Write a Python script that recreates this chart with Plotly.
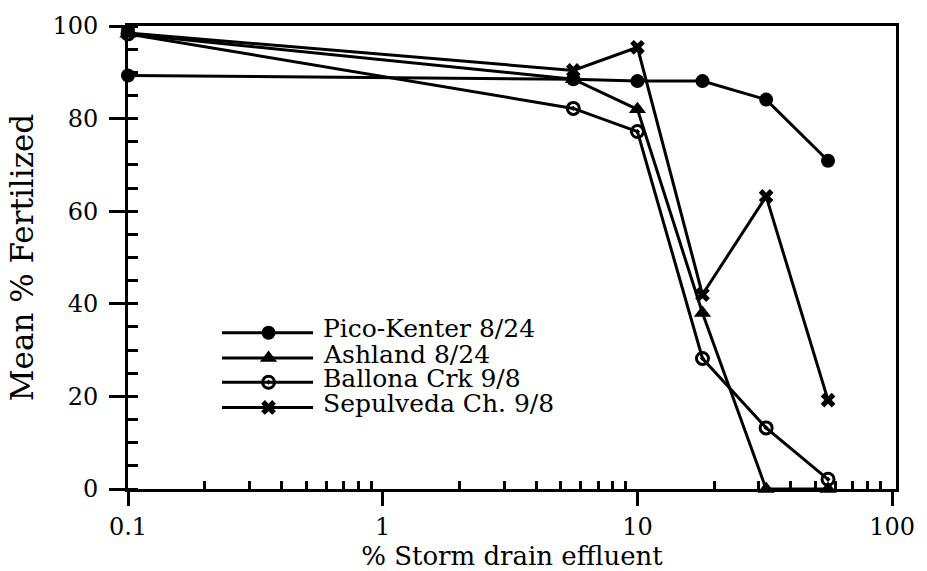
import plotly.graph_objects as go

# ---- data ----
conc = [0.1, 5.6, 10, 18, 32, 56]
pico_kenter = [89.3, 88.5, 88.1, 88.1, 84.1, 70.9]
ashland = [98.3, 88.5, 82.0, 38.0, 0.0, 0.0]
ballona = [98.3, 82.2, 77.2, 28.2, 13.2, 2.1]
sepulveda = [98.5, 90.4, 95.4, 42.0, 63.2, 19.2]
series_names = ["Pico-Kenter 8/24", "Ashland 8/24", "Ballona Crk 9/8", "Sepulveda Ch. 9/8"]
x_tick_vals = [0.1, 1, 10, 100]
x_tick_text = ["0.1", "1", "10", "100"]

# ---- styles ----
FONT = "DejaVu Serif"
W, H = 927, 571
ML, MR, MT, MB = 128, 23, 22, 72
styles = [
    dict(symbol="circle", size=14, color="black", line=dict(width=0)),
    dict(symbol="triangle-up", size=15, color="black", line=dict(width=0)),
    dict(symbol="circle-open-dot", size=12, color="black", line=dict(width=3)),
    dict(symbol="x", size=13, color="black", line=dict(width=0)),
]
values = [pico_kenter, ashland, ballona, sepulveda]

fig = go.Figure()
for name, vals, st in zip(series_names, values, styles):
    fig.add_trace(go.Scatter(
        x=conc, y=vals, name=name, mode="lines+markers",
        line=dict(color="black", width=3), marker=st,
        cliponaxis=False, showlegend=False,
    ))

# ---- manual legend (pixel space overlay axes) ----
leg_line_x0, leg_line_x1, leg_mark_x, leg_text_x = 223, 315, 270, 324
leg_rows = [338, 364, 389, 415]
for name, st, yy in zip(series_names, styles, leg_rows):
    fig.add_shape(type="line", xref="x2", yref="y2", x0=leg_line_x0, x1=leg_line_x1,
                  y0=yy, y1=yy, line=dict(color="black", width=3))
    fig.add_trace(go.Scatter(x=[leg_mark_x], y=[yy], xaxis="x2", yaxis="y2",
                             mode="markers", marker=st, showlegend=False,
                             cliponaxis=False, hoverinfo="skip"))
    fig.add_annotation(xref="x2", yref="y2", x=leg_text_x, y=yy - 4, text=name,
                       showarrow=False, xanchor="left", yanchor="middle",
                       borderpad=0,
                       font=dict(family=FONT, size=25, color="black"))

minor_x = [k * 10 ** e for e in (-1, 0, 1) for k in range(2, 10)]

fig.update_layout(
    width=W, height=H, margin=dict(l=ML, r=MR, t=MT, b=MB),
    paper_bgcolor="white", plot_bgcolor="white",
    font=dict(family=FONT, size=24, color="black"),
    showlegend=False,
    xaxis=dict(
        type="log", range=[-1, 2.015], tickvals=x_tick_vals, ticktext=x_tick_text,
        ticks="outside", ticklen=14, tickwidth=3, tickcolor="black",
        showline=True, linewidth=3, linecolor="black", mirror=True,
        showgrid=False, zeroline=False,
        minor=dict(tickvals=minor_x, ticks="inside", ticklen=8, tickwidth=3,
                   tickcolor="black", showgrid=False),
        tickfont=dict(family=FONT, size=24),
        title=dict(text="% Storm drain effluent", font=dict(family=FONT, size=26), standoff=0),
    ),
    yaxis=dict(
        range=[0, 100], dtick=20, tick0=0,
        ticks="outside", ticklen=16, tickwidth=3, tickcolor="black",
        showline=True, linewidth=3, linecolor="black", mirror=True,
        showgrid=False, zeroline=False,
        minor=dict(dtick=5, ticks="inside", ticklen=10, tickwidth=3,
                   tickcolor="black", showgrid=False),
        tickfont=dict(family=FONT, size=24),
        ticklabelstandoff=6,
        title=dict(text="Mean % Fertilized", font=dict(family=FONT, size=31), standoff=10),
    ),
    xaxis2=dict(overlaying="x", range=[ML, W - MR], visible=False, fixedrange=True),
    yaxis2=dict(overlaying="y", range=[H - MB, MT], visible=False, fixedrange=True),
)

fig.write_html("out.html")
